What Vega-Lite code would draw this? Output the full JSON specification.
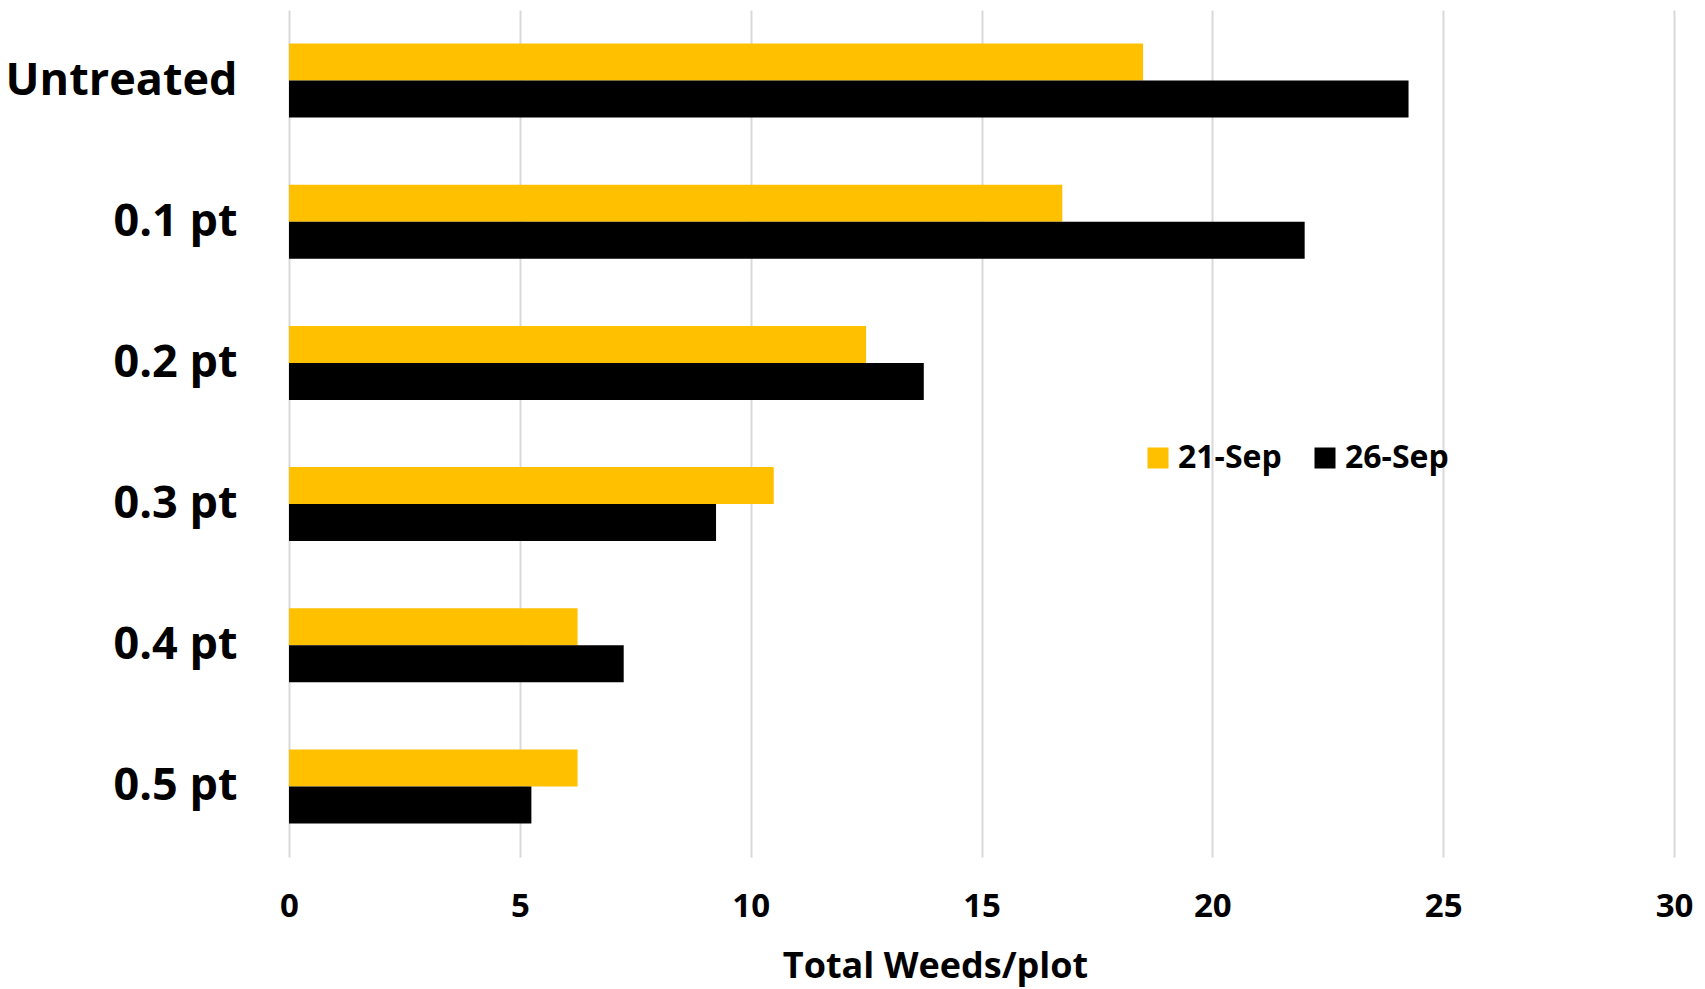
{
  "$schema": "https://vega.github.io/schema/vega-lite/v6.json",
  "width": 1385,
  "height": 847,
  "autosize": {"type": "none"},
  "padding": {"left": 289, "top": 10, "right": 31, "bottom": 132},
  "background": "white",
  "config": {
    "view": {"stroke": null},
    "font": "Open Sans"
  },
  "data": {
    "values": [
      {"Treatment": "Untreated", "Date": "21-Sep", "Weeds": 18.5},
      {"Treatment": "Untreated", "Date": "26-Sep", "Weeds": 24.25},
      {"Treatment": "0.1 pt", "Date": "21-Sep", "Weeds": 16.75},
      {"Treatment": "0.1 pt", "Date": "26-Sep", "Weeds": 22.0},
      {"Treatment": "0.2 pt", "Date": "21-Sep", "Weeds": 12.5},
      {"Treatment": "0.2 pt", "Date": "26-Sep", "Weeds": 13.75},
      {"Treatment": "0.3 pt", "Date": "21-Sep", "Weeds": 10.5},
      {"Treatment": "0.3 pt", "Date": "26-Sep", "Weeds": 9.25},
      {"Treatment": "0.4 pt", "Date": "21-Sep", "Weeds": 6.25},
      {"Treatment": "0.4 pt", "Date": "26-Sep", "Weeds": 7.25},
      {"Treatment": "0.5 pt", "Date": "21-Sep", "Weeds": 6.25},
      {"Treatment": "0.5 pt", "Date": "26-Sep", "Weeds": 5.25}
    ]
  },
  "mark": {"type": "bar"},
  "encoding": {
    "y": {
      "field": "Treatment",
      "type": "nominal",
      "sort": ["Untreated", "0.1 pt", "0.2 pt", "0.3 pt", "0.4 pt", "0.5 pt"],
      "scale": {"paddingInner": 0.476, "paddingOuter": 0.238},
      "axis": {
        "title": null,
        "domain": false,
        "ticks": false,
        "grid": false,
        "labelFont": "Open Sans",
        "labelFontWeight": "bold",
        "labelFontSize": 45,
        "labelColor": "#000000",
        "labelPadding": 52,
        "labelLimit": 400
      }
    },
    "yOffset": {
      "field": "Date",
      "type": "nominal",
      "sort": ["21-Sep", "26-Sep"],
      "scale": {"paddingInner": 0, "paddingOuter": 0}
    },
    "x": {
      "field": "Weeds",
      "type": "quantitative",
      "scale": {"domain": [0, 30], "nice": false},
      "axis": {
        "title": "Total Weeds/plot",
        "values": [0, 5, 10, 15, 20, 25, 30],
        "domain": false,
        "ticks": false,
        "grid": true,
        "gridColor": "#d9d9d9",
        "gridWidth": 2,
        "labelFlush": false,
        "labelFont": "Open Sans",
        "labelFontWeight": "bold",
        "labelFontSize": 33,
        "labelColor": "#000000",
        "labelPadding": 33,
        "titleFont": "Open Sans",
        "titleFontWeight": "bold",
        "titleFontSize": 36,
        "titleColor": "#000000",
        "titleX": 646,
        "titleY": 109,
        "titleAlign": "center",
        "titleBaseline": "middle"
      }
    },
    "color": {
      "field": "Date",
      "type": "nominal",
      "sort": ["21-Sep", "26-Sep"],
      "scale": {"domain": ["21-Sep", "26-Sep"], "range": ["#FFC000", "#000000"]},
      "legend": {
        "title": null,
        "orient": "none",
        "direction": "horizontal",
        "legendX": 853,
        "legendY": 432,
        "symbolType": "square",
        "symbolSize": 441,
        "symbolStrokeWidth": 0,
        "labelFont": "Open Sans",
        "labelFontWeight": "bold",
        "labelFontSize": 32,
        "labelColor": "#000000",
        "labelOffset": 4,
        "columnPadding": 27
      }
    }
  }
}
